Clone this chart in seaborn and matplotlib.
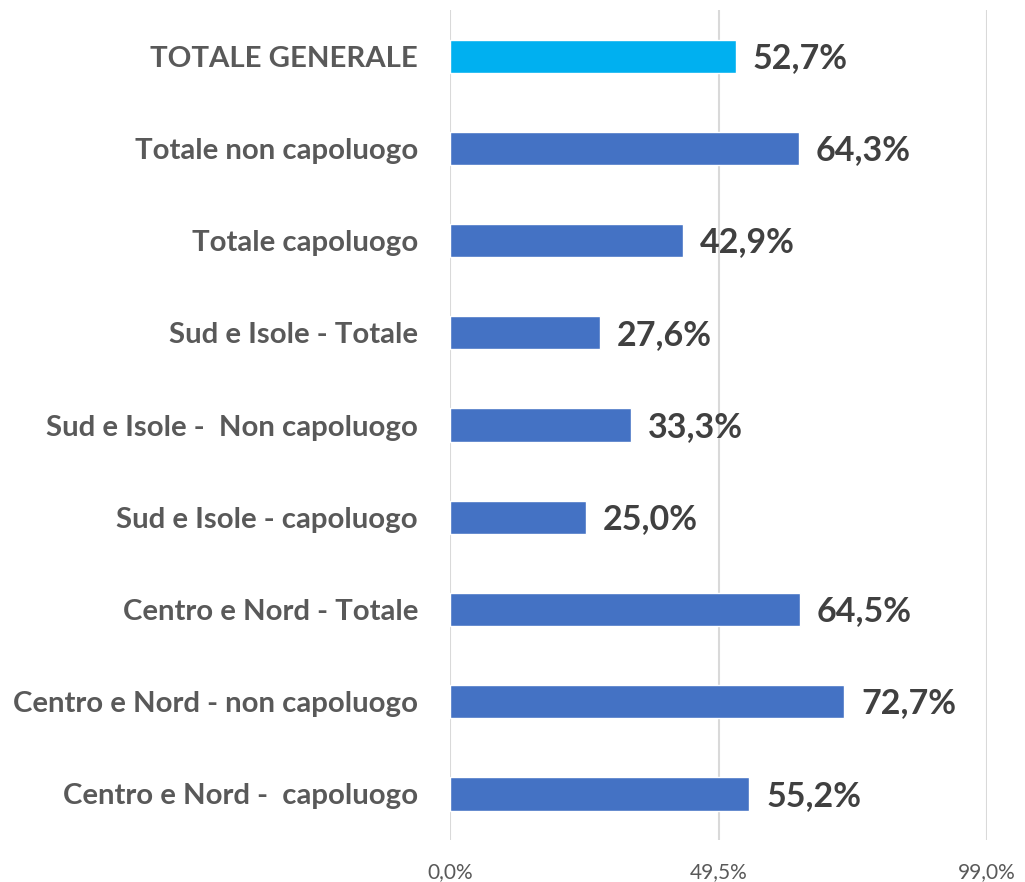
import pandas as pd
import matplotlib.pyplot as plt
import seaborn as sns

sns.set_style("white")
plt.rcParams['font.family'] = ['Lato', 'DejaVu Sans']

categories = [
    "TOTALE GENERALE",
    "Totale non capoluogo",
    "Totale capoluogo",
    "Sud e Isole - Totale",
    "Sud e Isole -  Non capoluogo",
    "Sud e Isole - capoluogo",
    "Centro e Nord - Totale",
    "Centro e Nord - non capoluogo",
    "Centro e Nord -  capoluogo",
]
values = [52.7, 64.3, 42.9, 27.6, 33.3, 25.0, 64.5, 72.7, 55.2]
ticks = [0.0, 49.5, 99.0]

df = pd.DataFrame({"cat": categories, "val": values})
colors = ["#00B0F0"] + ["#4472C4"] * (len(categories) - 1)

fig = plt.figure(figsize=(10.25, 8.82), dpi=100)
ax = fig.add_axes([0.439, 0.0476, 0.524, 0.941])

sns.barplot(data=df, x="val", y="cat", hue="cat", palette=colors,
            legend=False, width=0.36, saturation=1, ax=ax)

ax.set_xlim(0, 99)
ax.set_ylim(len(categories) - 0.5, -0.5)
ax.set_xticks(ticks)
ax.set_xticklabels([f"{t:.1f}%".replace(".", ",") for t in ticks],
                   fontsize=15, color="#595959")
ax.tick_params(axis="x", length=0, pad=16)
ax.tick_params(axis="y", length=0, pad=23)
for lbl in ax.get_yticklabels():
    lbl.set_fontsize(21.2)
    lbl.set_fontweight("bold")
    lbl.set_color("#595959")
ax.set_xlabel("")
ax.set_ylabel("")
for t in ticks:
    ax.axvline(t, color="#D9D9D9", lw=1.5, zorder=0)
for s in ax.spines.values():
    s.set_visible(False)

for i, v in enumerate(values):
    ax.text(v + 3.1, i + 0.02, f"{v:.1f}%".replace(".", ","), va="center", ha="left",
            fontsize=24.5, fontweight="bold", color="#404040")

fig.savefig("out.png", dpi=100)
